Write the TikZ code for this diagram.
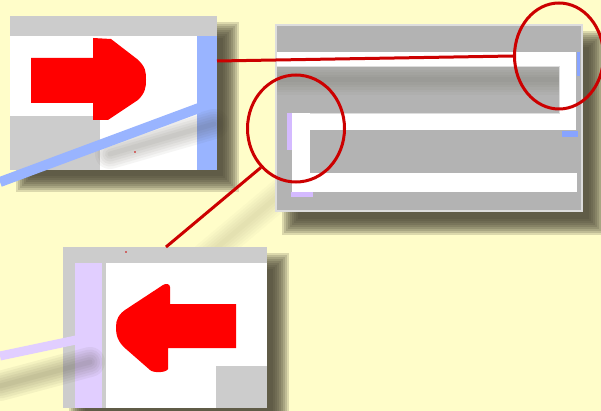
\documentclass[tikz,border=0pt]{standalone}
\usetikzlibrary{shapes.geometric}
\definecolor{bgc}{RGB}{255,253,201}
\definecolor{shadowc}{RGB}{70,66,50}
\definecolor{bandc}{RGB}{204,204,204}
\definecolor{panelc}{RGB}{179,179,179}
\definecolor{borderc}{RGB}{221,221,221}
\definecolor{bluec}{RGB}{153,180,255}
\definecolor{bluemark}{RGB}{136,164,255}
\definecolor{purplec}{RGB}{225,206,255}
\definecolor{purplemark}{RGB}{212,186,255}
\definecolor{arrowc}{RGB}{255,0,0}
\definecolor{linec}{RGB}{204,0,0}
\newcommand\softrect[4]{\foreach \k in {0,...,8}{\fill[shadowc,opacity=0.19] ({#1-8+2*\k},{#2-8+2*\k}) rectangle ({#3+8-2*\k},{#4+8-2*\k});}}
\newcommand\softline[5]{\foreach \w in {30,25,20,15,10,5}{\draw[shadowc,opacity=#5,line width=\w pt,line cap=round] (#1,#2)--(#3,#4);}}
\tikzset{
  redline/.style={linec,line width=3pt},
  ring/.style={draw=linec,line width=3pt,ellipse,inner sep=0pt,fill=none},
  bigarrow/.style={fill=arrowc,draw=none}
}
\begin{document}
\begin{tikzpicture}[x=1pt,y=-1pt]
\fill[bgc] (0,0) rectangle (601,411);
\useasboundingbox (0,0) rectangle (601,411);

% panel shadows
\softrect{24}{30}{231}{184}
\softrect{290}{39}{597}{227}
\softrect{77}{261}{281}{422}
% shadow of red connector on background
\softline{200}{262}{283}{192}{0.025}

% top-left panel
\fill[bandc] (10,16) rectangle (217,170);
\fill[white] (10,36) rectangle (197,116);
\fill[white] (100,116) rectangle (197,170);
\fill[bluec] (197,36) rectangle (217,170);
\coordinate (tl) at (217,61);
\path[bigarrow] (31,58) -- (93,58) -- (93,38) -- (111,39) -- (137,59)
  .. controls (146,67) and (146,72) .. (146,80)
  .. controls (146,88) and (145,93) .. (138,100)
  -- (108,120) -- (93,120) -- (93,103) -- (31,103) -- cycle;

% top-right panel
\fill[borderc] (275,24) rectangle (583,212);
\fill[panelc] (277,26) rectangle (581,210);
\begin{scope}
\clip (277,66) rectangle (559,113);
\softline{270}{80}{560}{80}{0.035}
\end{scope}
\fill[white] (277,52) rectangle (576,66);
\fill[white] (559,52) rectangle (576,130);
\fill[white] (292,113) rectangle (576,130);
\fill[white] (292,113) rectangle (310,192);
\fill[white] (292,173) rectangle (577,192);
\draw[borderc,line width=0.6pt] (277,66) -- (559,66) -- (559,113) -- (310,113);
\fill[bluemark] (577,52) rectangle (580,76);
\fill[bluemark] (562,131) rectangle (578,137);
\fill[purplemark] (287,113) rectangle (292,150);
\fill[purplemark] (291,192) rectangle (313,197);

% bottom panel
\fill[bandc] (63,247) rectangle (267,408);
\fill[purplec] (75,263) rectangle (102,408);
\fill[white] (106,263) rectangle (267,408);
\fill[bandc] (216,366) rectangle (267,408);
\coordinate (bp) at (166,247);
\path[bigarrow] (236,304) -- (170,304) -- (170,287)
  .. controls (170,284) and (166,283) .. (163,285)
  -- (128,308)
  .. controls (118,314) and (116,320) .. (116,327)
  .. controls (116,336) and (118,342) .. (126,349)
  -- (150,370) .. controls (153,373) and (166,373) .. (168,369)
  -- (168,348) -- (236,348) -- cycle;

% shadows of the coloured connectors
\softline{110}{154}{214}{124}{0.05}
\softline{0}{386}{90}{362}{0.06}

% coloured connectors
\coordinate (bl0) at (0,182);
\coordinate (bl1) at (199,108);
\draw[bluec,line width=10pt] (bl0) -- (bl1);
\coordinate (pl0) at (0,356);
\coordinate (pl1) at (76,340);
\draw[purplec,line width=9pt] (pl0) -- (pl1);

% tiny specks
\fill[linec] (135,152) circle (0.8);
\fill[linec] (126,252) circle (0.8);

% rings and red connectors
\node[ring,minimum width=89pt,minimum height=106pt] (c1) at (559,56) {};
\node[ring,minimum width=97pt,minimum height=107pt] (c2) at (296,128.5) {};
\draw[redline] (tl) -- (c1.west);
\draw[redline] (c2.228) -- (bp);
\end{tikzpicture}
\end{document}
